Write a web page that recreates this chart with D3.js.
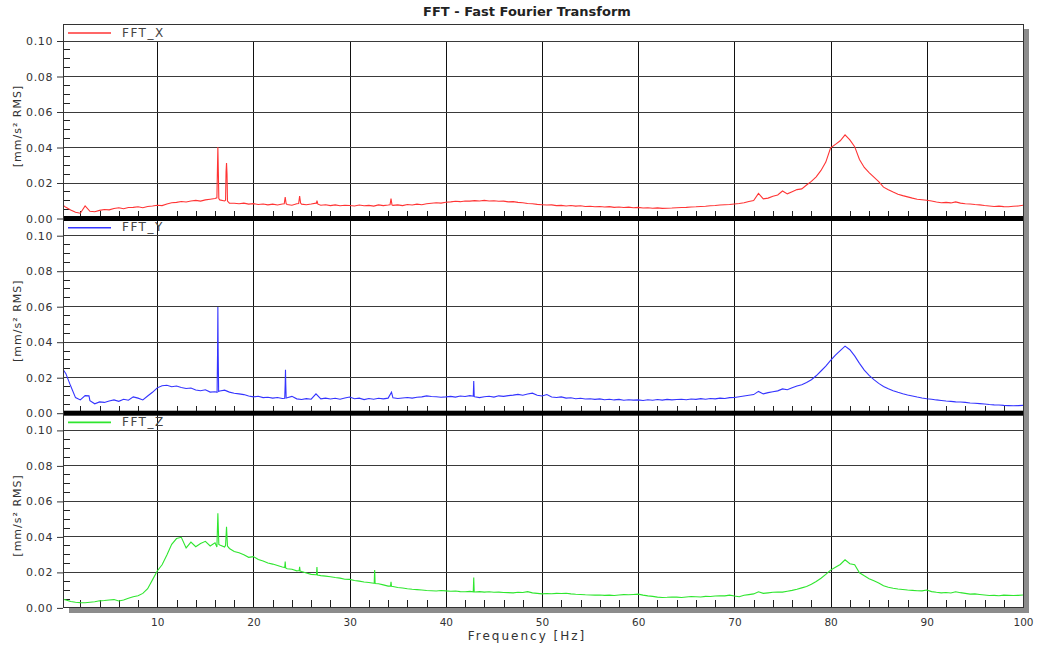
<!DOCTYPE html>
<html>
<head>
<meta charset="UTF-8"/>
<script src="https://d3js.org/d3.v7.min.js"></script>
<title>FFT - Fast Fourier Transform</title>
<style>
body { margin: 0; background: #fff; }
svg { font-family: "DejaVu Sans", Verdana, sans-serif; }
.grid { shape-rendering: crispEdges; }
</style>
</head>
<body>
<svg id="big" width="1037" height="648"></svg>
<script>
'use strict';

// spectrum bins: 0, 0.5, 1.0 ... 100 Hz, amplitudes in 1e-3 mm/s² RMS
var binStep = 0.5;

var fftX = [
 8, 6, 4.5, 3.2, 2.7, 6.8, 3.8, 3.5, 4.3, 4.8, 4.6, 5.4, 5.8, 5.2, 5.9, 6.0, 6.3, 5.8, 6.5, 6.8,
 7.2, 7.0, 7.9, 8.6, 8.8, 9.3, 9.0, 9.6, 9.9, 9.5, 10.2, 10.6, 11.0, 10.2, 9.6, 8.4, 8.3, 8.0, 8.4, 7.8,
 8.1, 7.6, 7.9, 7.4, 7.8, 7.3, 7.9, 7.6, 7.2, 8.0, 7.8, 7.5, 7.9, 8.4, 7.2, 7.5, 7.0, 7.4, 6.9, 7.2,
 7.0, 6.8, 7.3, 6.9, 7.1, 6.7, 7.4, 7.0, 7.3, 7.1, 7.4, 7.0, 7.6, 7.3, 7.8, 7.5, 8.0, 8.3, 8.6, 8.4,
 8.9, 9.1, 9.4, 9.2, 9.6, 9.5, 9.8, 9.6, 9.9, 9.6, 9.7, 9.4, 9.5, 9.1, 9.2, 8.8, 8.6, 8.2, 8.0, 7.7,
 7.5, 7.3, 7.4, 7.0, 7.1, 6.8, 7.0, 6.7, 6.9, 6.5, 6.6, 6.3, 6.5, 6.2, 6.4, 6.0, 6.2, 5.9, 6.1, 5.8,
 6.0, 5.6, 5.8, 5.5, 5.7, 5.4, 5.5, 5.6, 5.8, 5.9, 6.0, 6.2, 6.3, 6.5, 6.6, 6.9, 7.0, 7.3, 7.5, 7.6,
 7.9, 8.2, 8.6, 9.3, 9.8, 13.8, 10.8, 11.2, 12.3, 13.0, 15.2, 13.6, 14.8, 16.0, 16.4, 18.6, 20.6, 23.2, 26.8, 31.5,
 39.5, 41.5, 43.5, 46.8, 44.0, 40.2, 33.0, 28.5, 25.6, 23.0, 20.5, 17.4, 15.9, 14.6, 13.4, 12.6, 11.9, 11.2, 10.6, 10.3,
 10.0, 9.6, 9.0, 8.6, 8.8, 8.5, 9.1, 8.4, 8.0, 7.9, 7.6, 7.4, 7.0, 6.8, 6.5, 6.7, 6.4, 6.3, 6.6, 6.8,
 7.2
];

var fftY = [
 26, 22, 15, 8.5, 7.2, 9.6, 6.8, 5.0, 6.1, 5.8, 6.6, 7.2, 6.4, 7.6, 7.0, 8.9, 8.2, 7.2, 9.4, 11.5,
 14.0, 15.2, 15.5, 14.6, 15.0, 14.2, 13.6, 13.9, 12.8, 12.4, 12.9, 11.6, 11.8, 12.2, 12.7, 11.6, 11.0, 10.6, 10.2, 9.4,
 8.9, 9.3, 8.5, 8.7, 8.2, 8.6, 8.0, 8.4, 9.2, 7.8, 7.4, 7.9, 7.6, 10.6, 7.8, 8.2, 7.7, 8.1, 7.6, 8.3,
 8.8, 7.9, 8.2, 7.4, 8.0, 7.6, 8.1, 7.8, 8.2, 8.4, 8.0, 8.3, 8.6, 8.2, 8.7, 8.9, 9.5, 9.1, 9.0, 8.7,
 8.9, 9.2, 8.8, 9.4, 9.1, 9.6, 9.0, 8.5, 9.0, 9.3, 8.8, 9.5, 9.2, 9.6, 9.9, 10.3, 9.8, 10.5, 11.0, 9.8,
 9.4, 10.2, 8.8, 8.6, 8.9, 8.2, 8.4, 7.9, 8.1, 7.7, 7.9, 7.5, 7.8, 7.3, 7.6, 7.2, 7.5, 7.0, 7.3, 7.1,
 7.2, 6.9, 7.3, 7.0, 7.4, 7.1, 7.5, 7.2, 7.4, 7.6, 7.3, 7.7, 7.5, 7.9, 7.6, 8.0, 7.8, 8.2, 8.0, 8.5,
 8.6, 9.0, 9.4, 9.8, 10.2, 12.0, 10.6, 11.3, 11.8, 12.3, 13.4, 12.9, 14.0, 15.0, 15.8, 17.0, 18.6, 20.8, 23.5, 26.2,
 29.5, 32.5, 35.0, 37.5, 35.5, 32.0, 27.8, 24.0, 21.0, 18.6, 16.5, 14.8, 13.5, 12.4, 11.5, 10.7, 10.0, 9.4, 8.8, 8.3,
 7.9, 7.6, 7.2, 6.9, 6.6, 6.4, 6.1, 6.0, 5.8, 5.5, 5.3, 5.1, 4.9, 4.6, 4.4, 4.3, 4.1, 4.0, 3.9, 4.0,
 4.1
];

var fftZ = [
 5.0, 4.2, 3.3, 2.9, 2.7, 2.6, 2.9, 3.2, 3.7, 3.9, 4.2, 4.4, 3.6, 4.2, 5.2, 6.0, 6.6, 7.9, 10.5, 15.5,
 20.5, 24.0, 29.5, 35.5, 38.8, 39.5, 33.5, 36.8, 34.2, 36.0, 37.2, 34.6, 36.4, 35.2, 34.0, 33.2, 31.5, 30.8, 29.6, 28.2,
 28.6, 27.0, 26.2, 25.0, 24.4, 23.6, 22.8, 21.8, 21.5, 20.6, 20.2, 19.4, 18.6, 18.4, 17.9, 17.6, 17.3, 16.8, 16.5, 15.9,
 15.8, 15.2, 14.8, 14.3, 14.0, 13.6, 13.3, 12.7, 12.0, 11.8, 11.2, 10.9, 10.5, 10.2, 10.0, 9.8, 9.5, 9.4, 9.2, 9.5,
 9.3, 9.1, 9.2, 8.9, 8.8, 9.0, 8.7, 8.9, 8.6, 8.8, 8.5, 8.6, 8.4, 8.3, 8.2, 8.5, 8.4, 8.9, 8.2, 7.9,
 7.6, 7.8, 7.7, 7.9, 7.8, 8.0, 7.6, 7.4, 7.3, 7.1, 7.0, 6.9, 7.0, 6.8, 6.9, 6.7, 7.0, 7.2, 7.1, 7.3,
 7.5, 6.9, 6.5, 6.2, 5.8, 5.6, 5.7, 5.9, 5.8, 5.6, 5.9, 6.1, 6.0, 5.9, 6.2, 6.1, 6.4, 6.6, 6.5, 6.9,
 6.4, 6.0, 6.8, 7.2, 7.6, 8.8, 7.9, 8.2, 8.5, 8.7, 8.6, 9.1, 9.6, 10.2, 11.0, 11.8, 13.0, 14.6, 16.4, 18.6,
 21.0, 22.6, 24.2, 26.8, 24.6, 24.0, 19.5, 17.8, 16.2, 15.0, 13.8, 12.2, 11.4, 10.8, 10.4, 10.1, 9.8, 9.6, 9.4, 9.3,
 9.8, 8.9, 8.5, 8.2, 8.4, 8.1, 8.8, 8.3, 7.9, 7.5, 7.6, 7.3, 7.0, 6.7, 6.8, 6.6, 6.9, 6.8, 6.7, 6.8,
 7.0
];

// narrow lines between the bins: [Hz, 1e-3 mm/s²]
var peaksX = [
 [16.2, 11.4], [16.25, 26], [16.3, 40], [16.35, 26], [16.4, 11],
 [17.1, 10], [17.15, 26], [17.2, 31], [17.25, 25], [17.3, 9.5],
 [23.2, 8], [23.3, 11.8], [23.4, 8],
 [24.7, 8.2], [24.8, 12.4], [24.9, 8.4],
 [26.55, 8.3], [26.6, 9.8], [26.7, 7.8],
 [34.2, 7.5], [34.3, 11], [34.4, 7.4]
];
var peaksY = [
 [2.9, 9.5],
 [16.22, 11.5], [16.27, 35], [16.3, 59.6], [16.33, 35], [16.38, 12],
 [23.25, 8.1], [23.3, 16.4], [23.33, 24.2], [23.36, 16], [23.4, 8.3],
 [34.35, 11.5],
 [42.85, 9.3], [42.9, 17.9], [42.95, 9.1]
];
var peaksZ = [
 [16.2, 34], [16.3, 53], [16.4, 35.5],
 [17.1, 35], [17.2, 45.4], [17.3, 34.5],
 [23.25, 22.5], [23.3, 25.8], [23.35, 22.2],
 [24.75, 20.8], [24.8, 22.9], [24.85, 20.5],
 [26.55, 18.5], [26.6, 22.8], [26.65, 18.2],
 [32.55, 13.6], [32.6, 21], [32.65, 13.5],
 [34.25, 12.0], [34.3, 14.4], [34.35, 11.9],
 [42.85, 8.8], [42.9, 16.9], [42.95, 8.7]
];

var seriesNames = ['FFT_X', 'FFT_Y', 'FFT_Z'];
var yTicks = [0, 0.02, 0.04, 0.06, 0.08, 0.10];
var xTicks = [10, 20, 30, 40, 50, 60, 70, 80, 90, 100];

var spectra = [fftX, fftY, fftZ];
var peaks = [peaksX, peaksY, peaksZ];
var colors = ['#ff3434', '#3434ff', '#2fe62f'];

var svg = d3.select('#big');
var left = 63, right = 1023, frameTop = 24;
var zeros = [218, 412.7, 607.4];
var panelH = 177.5;
var bottom = zeros[2];
var font = '"DejaVu Sans", Verdana, sans-serif';

var sx = d3.scaleLinear().domain([0.2, 100]).range([left, right]);
var ys = zeros.map(function(z){
	return d3.scaleLinear().domain([0, 0.1]).range([z, z - panelH]);
});
function px(v){ return Math.round(v) + 0.5; }

// shadow
svg.append('rect').attr('x', 1024).attr('y', 29).attr('width', 5).attr('height', 584).attr('fill', '#8c8c8c');
svg.append('rect').attr('x', 69).attr('y', 608).attr('width', 960).attr('height', 5).attr('fill', '#8c8c8c');
svg.append('rect').attr('x', left).attr('y', frameTop).attr('width', right - left).attr('height', bottom - frameTop).attr('fill', '#fff');

svg.append('defs').selectAll('clipPath')
.data(zeros).enter()
.append('clipPath')
.attr('id', function(d,i){ return 'clip' + i; })
.append('rect')
.attr('x', left).attr('y', function(d){ return d - 194; })
.attr('width', right - left).attr('height', 194);

var grid = svg.append('g').attr('class', 'grid');

// vertical grid, runs through all three panels
grid.selectAll('.vline')
.data(xTicks.slice(0, -1))
.enter()
.append('line')
.attr('x1', function(d){ return px(sx(d)); })
.attr('x2', function(d){ return px(sx(d)); })
.attr('y1', ys[0](0.1))
.attr('y2', bottom)
.attr('stroke', '#111');

ys.forEach(function(y, i){
	grid.selectAll('.h' + i)
	.data(yTicks.slice(1))
	.enter()
	.append('line')
	.attr('x1', left).attr('x2', right)
	.attr('y1', function(d){ return px(y(d)); })
	.attr('y2', function(d){ return px(y(d)); })
	.attr('stroke', '#3a3a3a');

	// minor ticks on the left
	grid.selectAll('.my' + i)
	.data(d3.range(1, 20).filter(function(k){ return k % 4 != 0; }))
	.enter()
	.append('line')
	.attr('x1', left).attr('x2', left + 7)
	.attr('y1', function(k){ return px(y(k * 0.005)); })
	.attr('y2', function(k){ return px(y(k * 0.005)); })
	.attr('stroke', '#222');

	// minor ticks along the bottom
	grid.selectAll('.mx' + i)
	.data(d3.range(2, 100, 2).filter(function(f){ return f % 10 != 0; }))
	.enter()
	.append('line')
	.attr('x1', function(f){ return px(sx(f)); })
	.attr('x2', function(f){ return px(sx(f)); })
	.attr('y1', y(0) - 7).attr('y2', y(0))
	.attr('stroke', '#222');

	// y axis
	var ax = svg.append('g')
	.attr('transform', 'translate(' + left + ',0.5)')
	.call(d3.axisLeft(y).tickValues(yTicks).tickFormat(d3.format('.2f')).tickSize(6).tickPadding(4));
	ax.select('.domain').remove();
	ax.attr('font-size', 11).attr('font-family', font).attr('color', '#333');
	ax.selectAll('text').attr('letter-spacing', 0.6);

	svg.append('text')
	.attr('transform', 'translate(21,' + (zeros[i] - 92) + ') rotate(-90)')
	.attr('text-anchor', 'middle')
	.attr('font-size', 11)
	.attr('letter-spacing', 1)
	.attr('fill', '#333')
	.text('[mm/s² RMS]');

	// trace
	var pts = spectra[i].map(function(v, k){ return [k * binStep, v]; })
	.concat(peaks[i])
	.sort(function(a, b){ return a[0] - b[0]; });

	var line = d3.line()
	.x(function(d){ return sx(d[0]); })
	.y(function(d){ return y(d[1] / 1000); });

	svg.append('path')
	.datum(pts)
	.attr('clip-path', 'url(#clip' + i + ')')
	.attr('d', line)
	.attr('fill', 'none')
	.attr('stroke', colors[i])
	.attr('stroke-width', 1.1);

	// legend
	var ly = zeros[i] - 185;
	svg.append('line')
	.attr('x1', 68).attr('x2', 111)
	.attr('y1', ly).attr('y2', ly)
	.attr('stroke', colors[i])
	.attr('stroke-width', 1.6);
	svg.append('text')
	.attr('x', 122).attr('y', ly + 3.5)
	.attr('font-size', 12)
	.attr('letter-spacing', 1.5)
	.attr('fill', '#444')
	.text(seriesNames[i]);

	// thick separator under the upper panels
	if (i < 2) {
		svg.append('rect')
		.attr('x', left).attr('y', zeros[i] - 2)
		.attr('width', right - left + 1).attr('height', 5)
		.attr('fill', '#000');
	}
});

// frame
svg.append('rect')
.attr('class', 'grid')
.attr('x', left + 0.5).attr('y', frameTop + 0.5)
.attr('width', right - left).attr('height', Math.round(bottom) - frameTop)
.attr('fill', 'none')
.attr('stroke', '#333');

var xa = svg.append('g')
.attr('transform', 'translate(0,' + bottom + ')')
.call(d3.axisBottom(sx).tickValues(xTicks).tickSize(0).tickPadding(11));
xa.select('.domain').remove();
xa.attr('font-size', 10.5).attr('font-family', font).attr('color', '#333');

svg.append('text')
.attr('x', 527).attr('y', 640)
.attr('text-anchor', 'middle')
.attr('font-size', 12)
.attr('letter-spacing', 2)
.attr('fill', '#333')
.text('Frequency [Hz]');

svg.append('text')
.attr('x', 527).attr('y', 16)
.attr('text-anchor', 'middle')
.attr('font-size', 13)
.attr('font-weight', 'bold')
.attr('fill', '#222')
.text('FFT - Fast Fourier Transform');
</script>
</body>
</html>
